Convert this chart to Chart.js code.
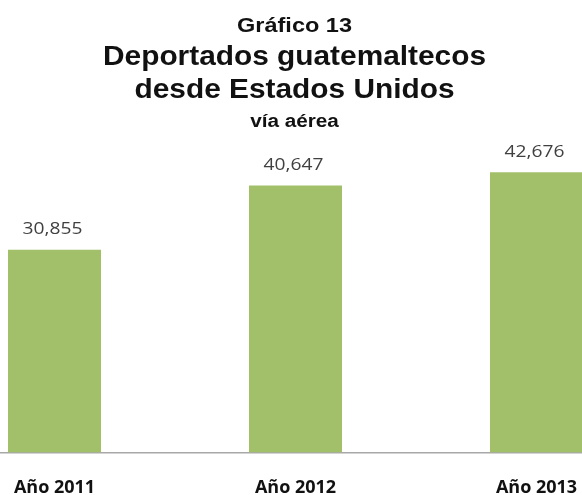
<!DOCTYPE html>
<html>
<head>
<meta charset="utf-8">
<script src="https://cdn.jsdelivr.net/npm/chart.js@4/dist/chart.umd.min.js"></script>
<style>
  html, body { margin: 0; padding: 0; background: #fff; overflow: hidden; }
  body { width: 582px; height: 495px; position: relative; }
  #grafico { position: absolute; left: -66px; top: 0; }
</style>
</head>
<body>
<canvas id="grafico" width="723" height="524"></canvas>
<script>
'use strict'

const years = ['Año 2011', 'Año 2012', 'Año 2013'];
const deportados = [30855, 40647, 42676];

const heading = ['Gráfico 13', 'Deportados guatemaltecos', 'desde Estados Unidos', 'vía aérea'];

// header lines: size, baseline and horizontal stretch
const headStyle = [
  { size: 21, y: 32, sx: 1.12 },
  { size: 27, y: 65, sx: 1.105 },
  { size: 27, y: 98, sx: 1.105 },
  { size: 18, y: 127, sx: 1.15 }
];

const headerPlugin = {
  id: 'header',
  afterDraw(chart) {
    const ctx = chart.ctx;
    const cx = chart.width / 2 - 1;
    ctx.save();
    ctx.fillStyle = '#111';
    ctx.textAlign = 'center';
    ctx.textBaseline = 'alphabetic';
    heading.forEach((txt, i) => {
      const st = headStyle[i];
      ctx.save();
      ctx.translate(cx, st.y);
      ctx.scale(st.sx, 1);
      ctx.font = 'bold ' + st.size + 'px "Liberation Sans", Arial, sans-serif';
      ctx.fillText(txt, 0, 0);
      ctx.restore();
    });
    ctx.restore();
  }
};

// value above each bar
const valuePlugin = {
  id: 'values',
  afterDatasetsDraw(chart) {
    const ctx = chart.ctx;
    const meta = chart.getDatasetMeta(0);
    ctx.save();
    ctx.fillStyle = '#404040';
    ctx.textAlign = 'center';
    ctx.textBaseline = 'alphabetic';
    ctx.font = '17px "Open Sans", sans-serif';
    meta.data.forEach((bar, i) => {
      ctx.save();
      ctx.translate(bar.x - 2, bar.y - 15.5);
      ctx.scale(1.13, 1);
      ctx.fillText(deportados[i].toLocaleString('en-US'), 0, 0);
      ctx.restore();
    });
    ctx.restore();
  }
};

const ctx = document.getElementById('grafico').getContext('2d');
new Chart(ctx, {
  type: 'bar',
  data: {
    labels: years,
    datasets: [{
      data: deportados,
      backgroundColor: '#a2bf6a',
      borderWidth: 0,
      categoryPercentage: 1,
      barPercentage: 0.386
    }]
  },
  options: {
    responsive: false,
    devicePixelRatio: 1,
    animation: false,
    layout: { padding: { top: 157, left: 0, right: 0, bottom: 0 } },
    plugins: {
      legend: { display: false },
      tooltip: { enabled: false },
      title: { display: false }
    },
    scales: {
      x: {
        grid: { display: false, drawTicks: false },
        border: { display: true, color: '#a8a8a8', width: 1.5 },
        ticks: {
          padding: 25,
          color: '#111',
          font: { family: '"Open Sans", sans-serif', size: 18, weight: 'bold' }
        }
      },
      y: {
        display: false,
        min: 0,
        max: 45000
      }
    }
  },
  plugins: [headerPlugin, valuePlugin]
});
</script>
</body>
</html>
